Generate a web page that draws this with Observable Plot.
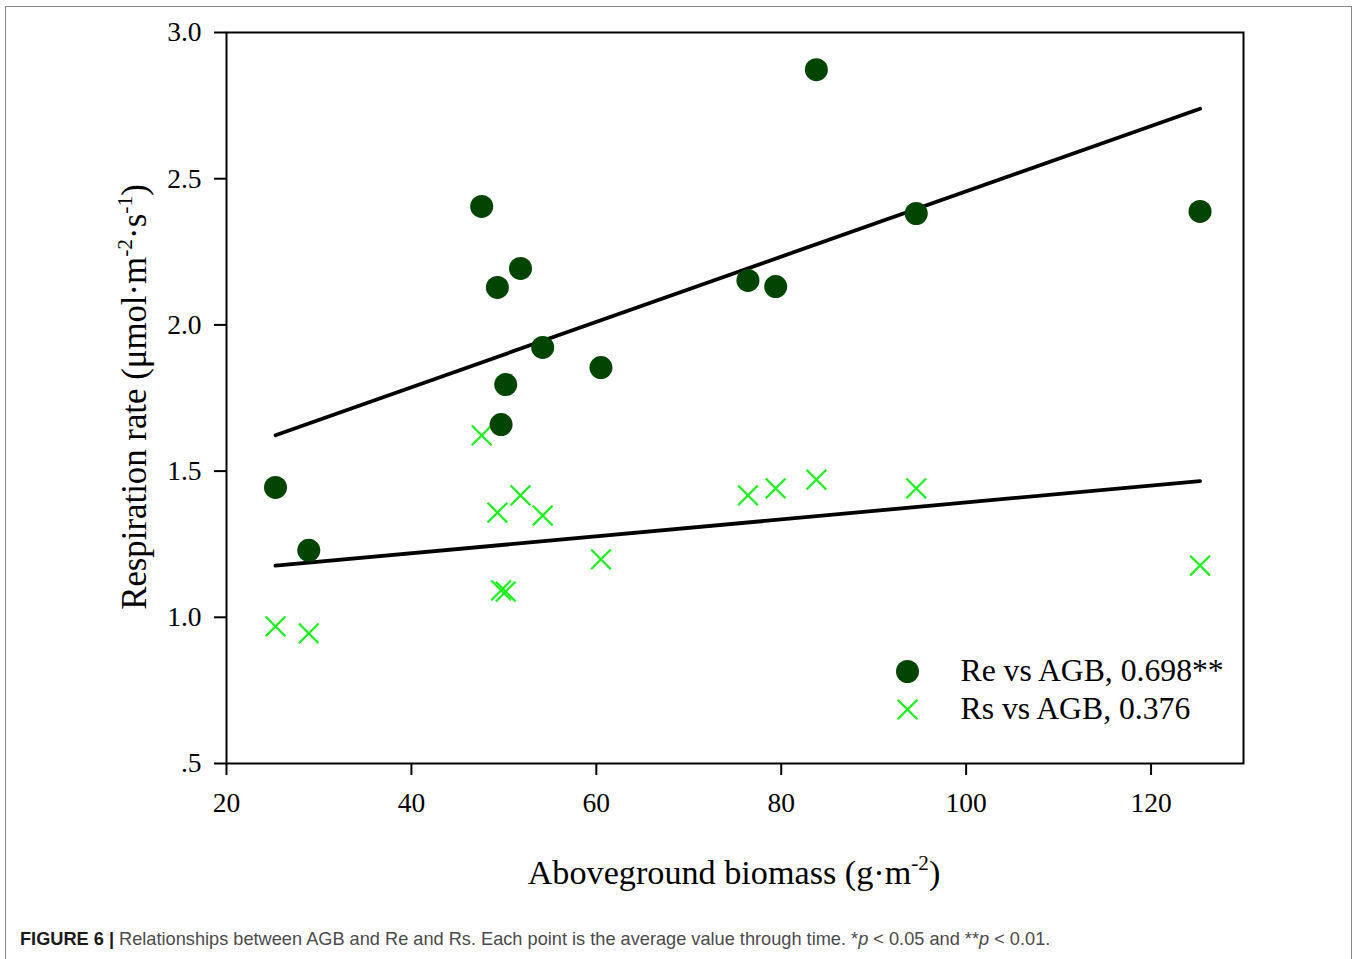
<!DOCTYPE html>
<html>
<head>
<meta charset="utf-8">
<script src="https://cdn.jsdelivr.net/npm/d3@7"></script>
<script src="https://cdn.jsdelivr.net/npm/@observablehq/plot@0.6"></script>
<style>
  html, body { margin: 0; padding: 0; background: #fff; }
  #wrap { position: relative; width: 1359px; height: 959px; overflow: hidden; }
  #border { position: absolute; left: 5px; top: 6px; width: 1347px; height: 1000px;
            border: 1.5px solid #8a8a8a; box-sizing: border-box; }
  #chart { position: absolute; left: 0; top: 0; }
  #caption { position: absolute; left: 20px; top: 929px; font-family: "Liberation Sans", Arial, sans-serif;
             font-size: 18.2px; color: #4a4a4a; white-space: nowrap; }
  #caption b { color: #1a1a1a; }
</style>
</head>
<body>
<div id="wrap">
  <div id="border"></div>
  <div id="chart"></div>
  <div id="caption"><b>FIGURE 6 |</b> Relationships between AGB and Re and Rs. Each point is the average value through time. *<i>p</i> &lt; 0.05 and **<i>p</i> &lt; 0.01.</div>
</div>
<script>
// Data
const agb = [25.3, 28.9, 47.6, 49.3, 51.8, 54.2, 50.2, 49.7, 60.5, 76.4, 79.4, 83.8, 94.6, 125.3];
const reValues = [1.444, 1.229, 2.405, 2.128, 2.193, 1.923, 1.796, 1.659, 1.854, 2.152, 2.131, 2.873, 2.381, 2.388];
const rsValues = [0.969, 0.945, 1.622, 1.358, 1.417, 1.348, 1.088, 1.092, 1.198, 1.417, 1.441, 1.471, 1.441, 1.177];
const xTicks = [20, 40, 60, 80, 100, 120];
const yTicks = [0.5, 1.0, 1.5, 2.0, 2.5, 3.0];
const yTickLabels = [".5", "1.0", "1.5", "2.0", "2.5", "3.0"];
const seriesNames = ["Re vs AGB, 0.698**", "Rs vs AGB, 0.376"];

const reData = agb.map((x, i) => ({x, y: reValues[i]}));
const rsData = agb.map((x, i) => ({x, y: rsValues[i]}));

const reColor = "#024402";
const rsColor = "#1aef1a";

const plot = Plot.plot({
  width: 1359,
  height: 910,
  marginLeft: 226,
  marginRight: 116,
  marginTop: 32,
  marginBottom: 147,
  style: {fontFamily: "'Liberation Serif', 'Times New Roman', serif", fontSize: "27.5px", color: "#000", background: "transparent"},
  x: {domain: [20, 130]},
  y: {domain: [0.5, 3.0]},
  marks: [
    Plot.frame({stroke: "#000", strokeWidth: 2}),
    Plot.axisX({ticks: xTicks, tickSize: 12, tickPadding: 17, strokeWidth: 2, label: null, fontSize: 27.5}),
    Plot.axisY({ticks: yTicks, tickSize: 12, tickPadding: 13, strokeWidth: 2, label: null, fontSize: 27.5,
                tickFormat: d => yTickLabels[yTicks.indexOf(d)]}),
    Plot.linearRegressionY(reData, {x: "x", y: "y", ci: 0, stroke: "#000", strokeWidth: 3.8}),
    Plot.linearRegressionY(rsData, {x: "x", y: "y", ci: 0, stroke: "#000", strokeWidth: 3.8}),
    Plot.dot(rsData, {x: "x", y: "y", symbol: "times", r: 9, stroke: rsColor, strokeWidth: 2.2}),
    Plot.dot(reData, {x: "x", y: "y", r: 11.5, fill: reColor, stroke: "none"}),
    // legend
    Plot.dot([seriesNames[0]], {frameAnchor: "bottom-right", dx: -336, dy: -92, r: 11.5, fill: reColor, stroke: "none"}),
    Plot.dot([seriesNames[1]], {frameAnchor: "bottom-right", dx: -336, dy: -54, symbol: "times", r: 9, stroke: rsColor, strokeWidth: 2.2}),
    Plot.text([seriesNames[0]], {frameAnchor: "bottom-right", dx: -283, dy: -83, text: d => d, textAnchor: "start", fontSize: 31.7, fill: "#000"}),
    Plot.text([seriesNames[1]], {frameAnchor: "bottom-right", dx: -283, dy: -45, text: d => d, textAnchor: "start", fontSize: 31.7, fill: "#000"})
  ]
});
document.getElementById("chart").appendChild(plot);

// Axis titles with superscripts
const svg = d3.select(plot);
const font = "'Liberation Serif', 'Times New Roman', serif";
function addLabel(parts, x, y, rotate, size) {
  const t = svg.append("text")
    .attr("x", x).attr("y", y)
    .attr("text-anchor", "middle")
    .attr("font-family", font)
    .attr("font-size", size)
    .attr("fill", "#000");
  if (rotate) t.attr("transform", `rotate(-90 ${x} ${y})`);
  parts.forEach(p => {
    const s = t.append("tspan").text(p.t);
    if (p.sup) s.attr("font-size", size * 0.62).attr("dy", -size * 0.4);
    if (p.after) s.attr("dy", size * 0.4);
  });
}
addLabel([
  {t: "Aboveground biomass (g·m"}, {t: "-2", sup: true}, {t: ")", after: true}
], 734, 884, false, 34.2);
addLabel([
  {t: "Respiration rate (μmol·m"}, {t: "-2", sup: true}, {t: "·s", after: true}, {t: "-1", sup: true}, {t: ")", after: true}
], 146, 397, true, 34.8);
</script>
</body>
</html>
